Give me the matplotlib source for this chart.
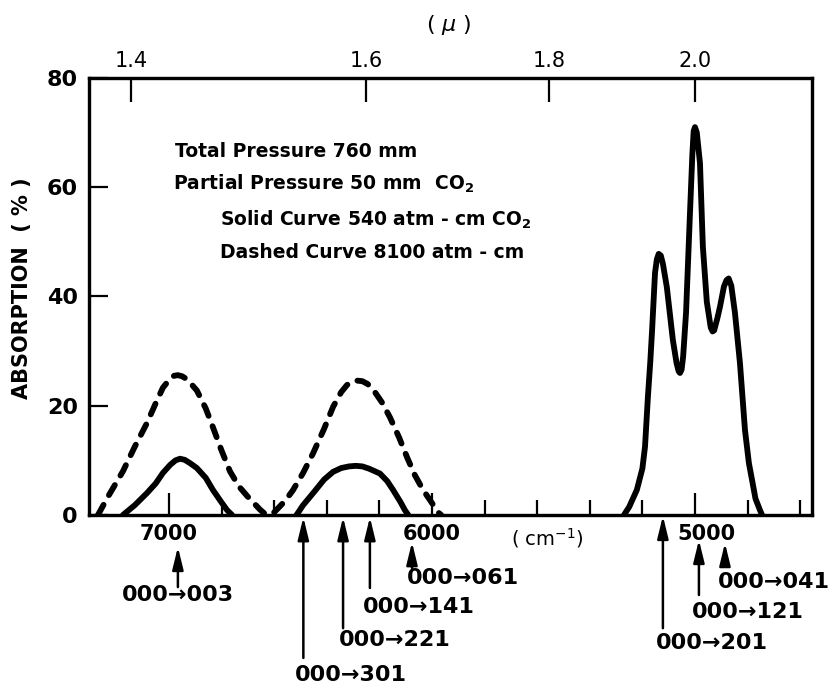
import numpy as np
import matplotlib
matplotlib.use('Agg')
import matplotlib.pyplot as plt
from matplotlib.transforms import blended_transform_factory

# bandas de absorcao do CO2 (numero de onda em cm-1, absorcao em %)
banda1_solida_cm = [7175, 7130, 7084, 7050, 7023, 6995, 6975, 6958, 6940, 6920, 6894, 6860, 6833,
                    6800, 6779, 6760]
banda1_solida = [0, 1.8, 4.0, 5.8, 7.7, 9.2, 10.0, 10.3, 10.1, 9.5, 8.6, 6.8, 4.6, 2.3, 0.9, 0]

banda1_tracejada_cm = [7270, 7230, 7175, 7130, 7084, 7050, 7023, 6995, 6980, 6966, 6950, 6930,
                       6894, 6860, 6833, 6800, 6768, 6735, 6703, 6654, 6630]
banda1_tracejada = [0, 3.5, 8.0, 12.5, 16.8, 20.5, 23.3, 25.0, 25.5, 25.6, 25.4, 24.8,
                    22.8, 19.5, 16.1, 11.8, 8.0, 5.3, 3.5, 1.0, 0]

banda2_solida_cm = [6515, 6490, 6452, 6410, 6376, 6345, 6315, 6290, 6265, 6240, 6198, 6170,
                    6148, 6120, 6103, 6090]
banda2_solida = [0, 1.8, 4.0, 6.5, 7.9, 8.6, 8.9, 9.0, 8.9, 8.5, 7.6, 6.2, 4.6, 2.4, 0.9, 0]

banda2_tracejada_cm = [6600, 6560, 6529, 6490, 6452, 6410, 6376, 6345, 6323, 6305, 6285, 6265,
                       6245, 6224, 6190, 6160, 6125, 6095, 6065, 6034, 6000, 5977, 5965]
banda2_tracejada = [0.5, 2.5, 4.5, 7.7, 11.3, 15.8, 19.8, 22.5, 23.8, 24.4, 24.6, 24.5,
                    24.0, 23.0, 20.6, 17.9, 14.2, 10.6, 7.3, 4.6, 2.2, 0.5, 0]

banda3_solida_cm = [5270, 5250, 5221, 5200, 5190, 5179, 5170, 5163, 5152, 5145, 5138, 5130, 5122,
                    5115, 5107, 5084, 5070, 5062, 5057, 5051, 5045, 5034, 5019, 5010, 5005,
                    5000, 4993, 4981, 4970, 4955, 4940, 4933, 4927, 4915, 4905, 4890, 4880,
                    4872, 4862, 4848, 4829, 4810, 4795, 4783, 4770, 4753, 4745]
banda3_solida = [0, 1.5, 4.6, 8.5, 12.5, 21.6, 28.0, 33.9, 44.3, 46.8, 47.8, 47.5, 46.0,
                 44.0, 41.7, 32.0, 27.8, 26.3, 26.0, 26.6, 29.0, 37.0, 55.3, 66.0, 70.3,
                 71.0, 70.0, 64.4, 49.1, 39.0, 34.3, 33.6, 33.8, 36.0, 38.1, 41.8, 43.0,
                 43.3, 42.0, 37.0, 27.8, 15.6, 9.5, 6.4, 3.0, 0.9, 0]

# transicoes indicadas por setas abaixo do eixo
transicoes = ['000→003', '000→301', '000→221', '000→141', '000→061',
              '000→201', '000→121', '000→041']
transicoes_cm = [6966, 6489, 6338, 6236, 6076, 5122, 4985, 4886]

# eixo de comprimento de onda (micra) no topo
micra = [1.4, 1.6, 1.8, 2.0]
ticks_y = [0, 20, 40, 60, 80]
ticks_cm_maiores = [7000, 6000, 5000]
ticks_cm_menores = [6800, 6600, 6400, 6200, 5800, 5600, 5400, 5200, 4800, 4600]

textos = ['Total Pressure 760 mm',
          'Partial Pressure 50 mm  CO$_\\mathbf{2}$',
          'Solid Curve 540 atm - cm CO$_\\mathbf{2}$',
          'Dashed Curve 8100 atm - cm']

# posicoes das setas e rotulos (fracao do eixo)
seta_base = [-0.165, -0.327, -0.259, -0.167, -0.121, -0.259, -0.183, -0.114]
seta_ponta = [-0.073, -0.005, -0.005, -0.005, -0.062, -0.002, -0.057, -0.064]
rotulo_y = [-0.183, -0.366, -0.286, -0.211, -0.144, -0.293, -0.222, -0.153]
rotulo_dx = [0, -6, -3, -5, -4, -5, -5, -5]
texto_x = [0.119, 0.116, 0.181, 0.181]
texto_y = [0.820, 0.745, 0.663, 0.589]

plt.rcParams['font.family'] = 'DejaVu Sans'

fig = plt.figure(figsize=(8.38, 6.9), dpi=100)
ax = fig.add_axes([0.1062, 0.2536, 0.8628, 0.6334])

lw = 4.2
estilo = dict(color='black', lw=lw, solid_capstyle='round', solid_joinstyle='round')
ax.plot(banda1_solida_cm, banda1_solida, **estilo)
ax.plot(banda2_solida_cm, banda2_solida, **estilo)
ax.plot(banda3_solida_cm, banda3_solida, **estilo)
tracejado = dict(color='black', lw=lw, dashes=(2.0, 1.9), dash_capstyle='round', dash_joinstyle='round')
ax.plot(banda1_tracejada_cm, banda1_tracejada, **tracejado)
ax.plot(banda2_tracejada_cm, banda2_tracejada, **tracejado)

ax.set_xlim(7304, 4555)
ax.set_ylim(0, 80)

for s in ax.spines.values():
    s.set_linewidth(2.3)

# eixo y
ax.set_yticks(ticks_y)
ax.set_yticklabels([str(v) for v in ticks_y], fontsize=16, fontweight='bold')
ax.tick_params(axis='y', direction='in', length=14, width=1.6, pad=8, right=False)
ax.set_ylabel('ABSORPTION  ( % )', fontsize=15, fontweight='bold')
ax.yaxis.set_label_coords(-0.079, 0.519)

# eixo x em cm-1 (rotulos escritos a parte)
ax.set_xticks(ticks_cm_maiores)
ax.set_xticks(ticks_cm_menores, minor=True)
ax.tick_params(axis='x', which='major', direction='in', length=16, width=1.6, labelbottom=False, top=False)
ax.tick_params(axis='x', which='minor', direction='in', length=11, width=1.6, top=False)

trans = blended_transform_factory(ax.transData, ax.transAxes)
desloc_cm = [0, 0, 8]
for v, dx in zip(ticks_cm_maiores, desloc_cm):
    ax.annotate(str(v), xy=(v, -0.043), xycoords=trans, xytext=(dx, 0), textcoords='offset points',
                ha='center', va='center', fontsize=15, fontweight='bold', annotation_clip=False)
ax.text(0.583, -0.052, '( cm$^{-1}$)', transform=ax.transAxes, fontsize=14, ha='left', va='center')

# eixo superior em micra
topo = ax.twiny()
topo.set_xlim(ax.get_xlim())
topo.set_xticks([1e4 / m for m in micra])
topo.set_xticklabels([f'{m:.1f}' for m in micra], fontsize=15)
topo.tick_params(axis='x', direction='in', length=17, width=1.6, pad=5)
for s in topo.spines.values():
    s.set_linewidth(2.3)
topo.text(0.498, 1.122, '( $\\mu$ )', transform=ax.transAxes, fontsize=16, ha='center', va='center')

# setas das transicoes
for i, nome in enumerate(transicoes):
    x = transicoes_cm[i]
    ax.annotate('', xy=(x, seta_ponta[i]), xycoords=trans,
                xytext=(x, seta_base[i]), textcoords=trans,
                arrowprops=dict(arrowstyle='-|>,head_length=0.9,head_width=0.22', lw=1.8,
                                color='black', shrinkA=0, shrinkB=0, mutation_scale=15),
                annotation_clip=False)
    ha = 'center' if i == 0 else 'left'
    ax.annotate(nome, xy=(x, rotulo_y[i]), xycoords=trans, xytext=(rotulo_dx[i], 0),
                textcoords='offset points', ha=ha, va='center', fontsize=16,
                fontweight='bold', annotation_clip=False)

# legenda em texto
for t, x, y in zip(textos, texto_x, texto_y):
    ax.text(x, y, t, transform=ax.transAxes, fontsize=13.5, fontweight='bold', ha='left', va='baseline')

fig.savefig('out.png', dpi=100)
